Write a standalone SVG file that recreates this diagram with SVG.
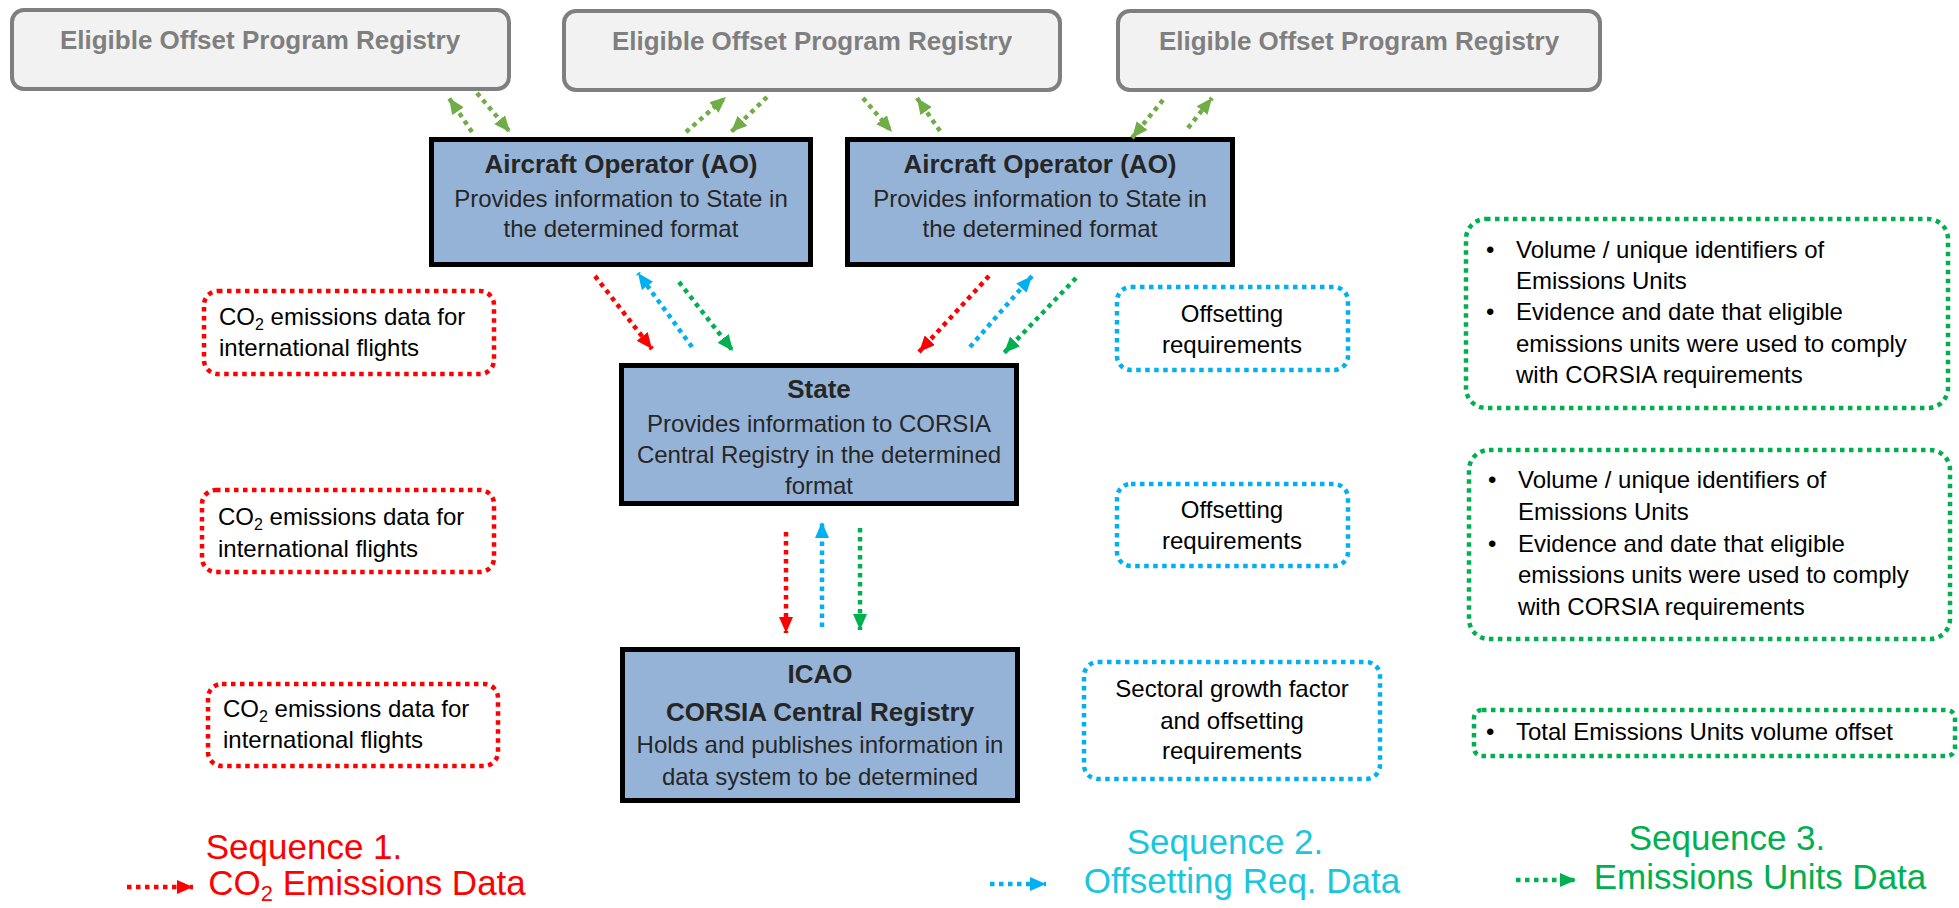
<svg xmlns="http://www.w3.org/2000/svg" width="1959" height="908" viewBox="0 0 1959 908">
<style>
text{font-family:"Liberation Sans",Arial,sans-serif}
.reg rect{fill:#f2f2f2;stroke:#7f7f7f;stroke-width:4}
.reg text{font-size:26px;font-weight:bold;fill:#7f7f7f;text-anchor:middle}
.node rect{fill:#95b3d7;stroke:#000;stroke-width:5}
.node text{fill:#262626;text-anchor:middle}
.t{font-size:26px;font-weight:bold}
.b{font-size:24px}
.dbox rect{fill:none;stroke-width:4.5;stroke-dasharray:4.5 4.5}
.dbox text{font-size:24px;fill:#000}
.red rect{stroke:#ff0000}
.blue rect{stroke:#00b0f0}
.green rect{stroke:#00b050}
.mid{text-anchor:middle}
.conn line{stroke-width:4.5;stroke-dasharray:4.5 4.5;fill:none}
.ol{stroke:#70ad47}
.rd{stroke:#ff0000}
.bl{stroke:#00b0f0}
.gr{stroke:#00b050}
.leg{font-size:35px}
</style>
<defs>
<marker id="mOl" markerUnits="userSpaceOnUse" markerWidth="17" markerHeight="14" refX="16" refY="7" orient="auto"><path d="M0,0 L16,7 L0,14 z" fill="#70ad47"/></marker>
<marker id="mRd" markerUnits="userSpaceOnUse" markerWidth="17" markerHeight="14" refX="16" refY="7" orient="auto"><path d="M0,0 L16,7 L0,14 z" fill="#ff0000"/></marker>
<marker id="mBl" markerUnits="userSpaceOnUse" markerWidth="17" markerHeight="14" refX="16" refY="7" orient="auto"><path d="M0,0 L16,7 L0,14 z" fill="#00b0f0"/></marker>
<marker id="mGr" markerUnits="userSpaceOnUse" markerWidth="17" markerHeight="14" refX="16" refY="7" orient="auto"><path d="M0,0 L16,7 L0,14 z" fill="#00b050"/></marker>
</defs>
<rect width="1959" height="908" fill="#ffffff"/>

<g id="registry1" class="reg"><rect x="12" y="10" width="497" height="79" rx="12"/><text x="260" y="49">Eligible Offset Program Registry</text></g>
<g id="registry2" class="reg"><rect x="564" y="11" width="496" height="79" rx="12"/><text x="812" y="50">Eligible Offset Program Registry</text></g>
<g id="registry3" class="reg"><rect x="1118" y="11" width="482" height="79" rx="12"/><text x="1359" y="50">Eligible Offset Program Registry</text></g>

<g id="ao1" class="node"><rect x="431.5" y="139.5" width="379" height="125"/>
<text x="621" y="173" class="t">Aircraft Operator (AO)</text>
<text x="621" y="207" class="b">Provides information to State in</text>
<text x="621" y="237" class="b">the determined format</text></g>
<g id="ao2" class="node"><rect x="847.5" y="139.5" width="385" height="125"/>
<text x="1040" y="173" class="t">Aircraft Operator (AO)</text>
<text x="1040" y="207" class="b">Provides information to State in</text>
<text x="1040" y="237" class="b">the determined format</text></g>
<g id="state" class="node"><rect x="621.5" y="365.5" width="395" height="138"/>
<text x="819" y="398" class="t">State</text>
<text x="819" y="432" class="b">Provides information to CORSIA</text>
<text x="819" y="463" class="b">Central Registry in the determined</text>
<text x="819" y="494" class="b">format</text></g>
<g id="icao" class="node"><rect x="622.5" y="649.5" width="395" height="151"/>
<text x="820" y="683" class="t">ICAO</text>
<text x="820" y="721" class="t">CORSIA Central Registry</text>
<text x="820" y="753" class="b">Holds and publishes information in</text>
<text x="820" y="785" class="b">data system to be determined</text></g>

<g id="co2box1" class="dbox red"><rect x="204" y="291" width="290" height="83" rx="14"/>
<text x="219" y="325">CO<tspan font-size="16" dy="5">2</tspan><tspan dy="-5"> emissions data for</tspan></text>
<text x="219" y="356">international flights</text></g>
<g id="co2box2" class="dbox red"><rect x="202" y="490" width="292" height="82" rx="14"/>
<text x="218" y="525">CO<tspan font-size="16" dy="5">2</tspan><tspan dy="-5"> emissions data for</tspan></text>
<text x="218" y="557">international flights</text></g>
<g id="co2box3" class="dbox red"><rect x="208" y="684" width="290" height="82" rx="14"/>
<text x="223" y="717">CO<tspan font-size="16" dy="5">2</tspan><tspan dy="-5"> emissions data for</tspan></text>
<text x="223" y="748">international flights</text></g>

<g id="offbox1" class="dbox blue"><rect x="1117" y="287" width="231" height="83" rx="14"/>
<text x="1232" y="322" class="mid">Offsetting</text>
<text x="1232" y="353" class="mid">requirements</text></g>
<g id="offbox2" class="dbox blue"><rect x="1117" y="484" width="231" height="82" rx="14"/>
<text x="1232" y="518" class="mid">Offsetting</text>
<text x="1232" y="549" class="mid">requirements</text></g>
<g id="offbox3" class="dbox blue"><rect x="1084" y="662" width="296" height="117" rx="14"/>
<text x="1232" y="697" class="mid">Sectoral growth factor</text>
<text x="1232" y="729" class="mid">and offsetting</text>
<text x="1232" y="759" class="mid">requirements</text></g>

<g id="unitbox1" class="dbox green"><rect x="1466" y="219" width="482" height="189" rx="20"/>
<text x="1486" y="258">•</text><text x="1516" y="258">Volume / unique identifiers of</text>
<text x="1516" y="289">Emissions Units</text>
<text x="1486" y="320">•</text><text x="1516" y="320">Evidence and date that eligible</text>
<text x="1516" y="352">emissions units were used to comply</text>
<text x="1516" y="383">with CORSIA requirements</text></g>
<g id="unitbox2" class="dbox green"><rect x="1469" y="450" width="481" height="189" rx="20"/>
<text x="1488" y="488">•</text><text x="1518" y="488">Volume / unique identifiers of</text>
<text x="1518" y="520">Emissions Units</text>
<text x="1488" y="552">•</text><text x="1518" y="552">Evidence and date that eligible</text>
<text x="1518" y="583">emissions units were used to comply</text>
<text x="1518" y="615">with CORSIA requirements</text></g>
<g id="unitbox3" class="dbox green"><rect x="1474" y="710" width="481" height="46" rx="8"/>
<text x="1486" y="740">•</text><text x="1516" y="740">Total Emissions Units volume offset</text></g>

<g id="connectors" class="conn">
<line class="ol" x1="472" y1="132" x2="449" y2="98" marker-end="url(#mOl)"/>
<line class="ol" x1="477" y1="93" x2="510" y2="132" marker-end="url(#mOl)"/>
<line class="ol" x1="686" y1="132" x2="726" y2="97" marker-end="url(#mOl)"/>
<line class="ol" x1="767" y1="97" x2="731" y2="132" marker-end="url(#mOl)"/>
<line class="ol" x1="863" y1="98" x2="892" y2="132" marker-end="url(#mOl)"/>
<line class="ol" x1="940" y1="131" x2="917" y2="98" marker-end="url(#mOl)"/>
<line class="ol" x1="1163" y1="100" x2="1132" y2="138" marker-end="url(#mOl)"/>
<line class="ol" x1="1188" y1="128" x2="1212" y2="98" marker-end="url(#mOl)"/>

<line class="rd" x1="595" y1="276" x2="652" y2="349" marker-end="url(#mRd)"/>
<line class="bl" x1="692" y1="347" x2="638" y2="273" marker-end="url(#mBl)"/>
<line class="gr" x1="679" y1="282" x2="733" y2="351" marker-end="url(#mGr)"/>
<line class="rd" x1="989" y1="276" x2="919" y2="352" marker-end="url(#mRd)"/>
<line class="bl" x1="970" y1="347" x2="1032" y2="276" marker-end="url(#mBl)"/>
<line class="gr" x1="1076" y1="278" x2="1004" y2="353" marker-end="url(#mGr)"/>

<line class="rd" x1="786" y1="532" x2="786" y2="633" marker-end="url(#mRd)"/>
<line class="bl" x1="822" y1="627" x2="822" y2="522" marker-end="url(#mBl)"/>
<line class="gr" x1="860" y1="528" x2="860" y2="630" marker-end="url(#mGr)"/>

<line class="rd" x1="127" y1="887" x2="193" y2="887" marker-end="url(#mRd)"/>
<line class="bl" x1="990" y1="884" x2="1046" y2="884" marker-end="url(#mBl)"/>
<line class="gr" x1="1516" y1="880" x2="1576" y2="880" marker-end="url(#mGr)"/>
</g>

<g id="legend1" fill="#ff0000">
<text class="leg mid" x="304" y="859">Sequence 1.</text>
<text class="leg mid" x="367" y="895">CO<tspan font-size="22" dy="6">2</tspan><tspan dy="-6"> Emissions Data</tspan></text>
</g>
<g id="legend2" fill="#1ac6dc">
<text class="leg mid" x="1225" y="854">Sequence 2.</text>
<text class="leg mid" x="1242" y="893">Offsetting Req. Data</text>
</g>
<g id="legend3" fill="#00b050">
<text class="leg mid" x="1727" y="850">Sequence 3.</text>
<text class="leg mid" x="1760" y="889">Emissions Units Data</text>
</g>
</svg>
